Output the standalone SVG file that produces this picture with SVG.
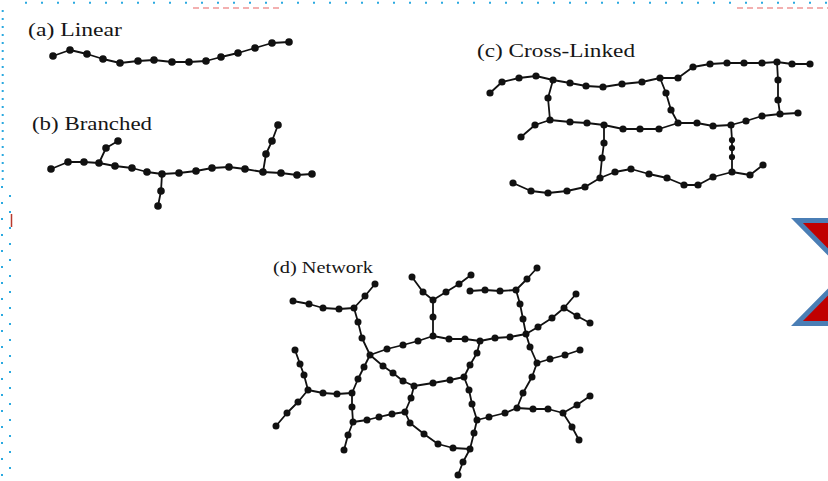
<svg xmlns="http://www.w3.org/2000/svg" width="828" height="481" viewBox="0 0 828 481">
  <style>
    .bond { fill: none; stroke: #111; stroke-width: 1.8; stroke-linejoin: round; stroke-linecap: round; }
    .atom { fill: #111; }
    .lbl { font-family: "Liberation Serif", "Times New Roman", serif; fill: #161616; }
    .dots { fill: none; stroke: #2BA9E0; stroke-width: 2; }
    .redline { fill: none; stroke: #E86A6A; stroke-width: 1.5; stroke-dasharray: 6 4; opacity: 0.7; }
    .arrow { fill: #C00000; stroke: #4A7EB5; stroke-width: 5; stroke-linejoin: miter; }
  </style>

  <rect width="828" height="481" fill="#ffffff"/>

  <!-- dotted frame -->
  <g id="frame">
    <line class="dots" x1="25" y1="2.7" x2="828" y2="2.7" stroke-dasharray="2 14"/>
    <line class="dots" x1="2.7" y1="10" x2="2.7" y2="184" stroke-dasharray="2 6"/>
    <line class="dots" x1="2" y1="186" x2="2" y2="481" stroke-dasharray="2 14"/>
    <line class="dots" x1="10" y1="195" x2="10" y2="481" stroke-dasharray="2 14"/>
    <line class="redline" x1="193" y1="8" x2="280" y2="8"/>
    <line class="redline" x1="737" y1="8" x2="828" y2="8"/>
    <line x1="11.5" y1="214" x2="11.5" y2="227" stroke="#B83A2E" stroke-width="1.5"/>
  </g>

  <!-- navigation marker at the right edge -->
  <g id="nav-marker">
    <polygon class="arrow" points="797,220.5 831,220.5 831,255"/>
    <polygon class="arrow" points="797,323.5 831,323.5 831,289"/>
  </g>

  <!-- bonds -->
  <g id="connectors">
    <!-- (a) linear -->
    <polyline class="bond" points="53,56 70,50 87,54 103,59 120,63 138,61 154,60 172,62 189,62 206,61 221,57 238,53 255,48 272,43 289,42"/>
    <!-- (b) branched -->
    <polyline class="bond" points="51,169 68,162 84,162 99,163 115,166 132,168 147,172 162,174 179,173 196,171 212,168 229,167 245,169 263,172 281,173 297,175 312,174"/>
    <polyline class="bond" points="99,163 106,148 118,141"/>
    <polyline class="bond" points="162,174 161,191 158,206"/>
    <polyline class="bond" points="263,172 266,154 272,141 278,125"/>
    <!-- (c) cross-linked -->
    <polyline class="bond" points="490,93 502,82 519,78 536,76 553,80 570,83 586,86 603,87 622,84 642,82 660,78 678,78 693,67 710,64 727,63 744,63 762,63 777,62 792,64 810,64"/>
    <polyline class="bond" points="521,137 535,125 550,120 570,122 587,123 604,125 623,129 640,129 659,129 678,123 697,123 713,126 731,125 746,121 762,116 780,114 798,113"/>
    <polyline class="bond" points="513,183 531,191 548,193 567,191 585,187 600,178 615,172 631,169 649,174 667,178 684,185 698,185 713,177 732,172 750,175 763,165"/>
    <polyline class="bond" points="553,80 548,98 550,120"/>
    <polyline class="bond" points="660,78 666,93 671,110 678,123"/>
    <polyline class="bond" points="777,62 778,80 778,100 780,114"/>
    <polyline class="bond" points="604,125 604,143 602,158 600,178"/>
    <polyline class="bond" points="731,125 732,140 732,148 732,157 732,172"/>
    <!-- (d) network -->
    <polyline class="bond" points="293,301 309,304 323,308 339,309 354,308"/>
    <polyline class="bond" points="354,308 365,296 375,284"/>
    <polyline class="bond" points="354,308 358,322 362,338 370,355"/>
    <polyline class="bond" points="370,355 387,349 403,345 418,341 433,336"/>
    <polyline class="bond" points="433,336 433,317 433,300"/>
    <polyline class="bond" points="433,300 423,292 412,277"/>
    <polyline class="bond" points="433,300 446,292 459,284 471,275"/>
    <polyline class="bond" points="433,336 449,339 465,339 480,341"/>
    <polyline class="bond" points="480,341 495,338 510,337 526,334"/>
    <polyline class="bond" points="516,290 520,304 523,319 526,334"/>
    <polyline class="bond" points="470,291 485,290 500,291 516,290"/>
    <polyline class="bond" points="516,290 527,279 537,268"/>
    <polyline class="bond" points="526,334 538,327 552,318 564,308"/>
    <polyline class="bond" points="564,308 576,294"/>
    <polyline class="bond" points="564,308 577,316 590,323"/>
    <polyline class="bond" points="526,334 530,347 537,363"/>
    <polyline class="bond" points="537,363 550,359 565,355 580,350"/>
    <polyline class="bond" points="537,363 532,377 523,393 517,408"/>
    <polyline class="bond" points="517,408 533,409 548,409 563,413"/>
    <polyline class="bond" points="563,413 577,405 590,396"/>
    <polyline class="bond" points="563,413 572,427 579,440"/>
    <polyline class="bond" points="477,420 489,417 505,413 517,408"/>
    <polyline class="bond" points="480,341 477,353 470,365 464,377"/>
    <polyline class="bond" points="464,377 450,380 433,383 414,386"/>
    <polyline class="bond" points="370,355 383,366 393,373 403,381 414,386"/>
    <polyline class="bond" points="464,377 469,390 472,404 477,420"/>
    <polyline class="bond" points="477,420 474,433 470,449"/>
    <polyline class="bond" points="470,449 463,462 458,475"/>
    <polyline class="bond" points="414,386 411,398 405,412"/>
    <polyline class="bond" points="405,412 410,423 424,434 438,444 453,448 470,449"/>
    <polyline class="bond" points="353,422 367,420 379,417 392,414 405,412"/>
    <polyline class="bond" points="370,355 364,367 358,379 352,393"/>
    <polyline class="bond" points="352,393 352,407 353,422"/>
    <polyline class="bond" points="353,422 348,435 344,450"/>
    <polyline class="bond" points="308,390 323,393 337,394 352,393"/>
    <polyline class="bond" points="308,390 304,375 300,364 295,350"/>
    <polyline class="bond" points="308,390 298,402 287,413 276,426"/>
  </g>

  <!-- (a) linear chain -->
  <g id="linear">
    <text class="lbl" x="28" y="36" font-size="18" textLength="94" lengthAdjust="spacingAndGlyphs">(a) Linear</text>
    <g class="atom">
      <circle cx="53" cy="56" r="3.8"/><circle cx="70" cy="50" r="3.8"/><circle cx="87" cy="54" r="3.8"/>
      <circle cx="103" cy="59" r="3.8"/><circle cx="120" cy="63" r="3.8"/><circle cx="138" cy="61" r="3.8"/>
      <circle cx="154" cy="60" r="3.8"/><circle cx="172" cy="62" r="3.8"/><circle cx="189" cy="62" r="3.8"/>
      <circle cx="206" cy="61" r="3.8"/><circle cx="221" cy="57" r="3.8"/><circle cx="238" cy="53" r="3.8"/>
      <circle cx="255" cy="48" r="3.8"/><circle cx="272" cy="43" r="3.8"/><circle cx="289" cy="42" r="3.8"/>
    </g>
  </g>

  <!-- (b) branched chain -->
  <g id="branched">
    <text class="lbl" x="32" y="130" font-size="19" textLength="120" lengthAdjust="spacingAndGlyphs">(b) Branched</text>
    <g class="atom">
      <circle cx="51" cy="169" r="3.8"/><circle cx="68" cy="162" r="3.8"/><circle cx="84" cy="162" r="3.8"/>
      <circle cx="99" cy="163" r="3.8"/><circle cx="115" cy="166" r="3.8"/><circle cx="132" cy="168" r="3.8"/>
      <circle cx="147" cy="172" r="3.8"/><circle cx="162" cy="174" r="3.8"/><circle cx="179" cy="173" r="3.8"/>
      <circle cx="196" cy="171" r="3.8"/><circle cx="212" cy="168" r="3.8"/><circle cx="229" cy="167" r="3.8"/>
      <circle cx="245" cy="169" r="3.8"/><circle cx="263" cy="172" r="3.8"/><circle cx="281" cy="173" r="3.8"/>
      <circle cx="297" cy="175" r="3.8"/><circle cx="312" cy="174" r="3.8"/>
      <circle cx="106" cy="148" r="3.8"/><circle cx="118" cy="141" r="3.8"/>
      <circle cx="161" cy="191" r="3.8"/><circle cx="158" cy="206" r="3.8"/>
      <circle cx="266" cy="154" r="3.8"/><circle cx="272" cy="141" r="3.8"/><circle cx="278" cy="125" r="3.8"/>
    </g>
  </g>

  <!-- (c) cross-linked chains -->
  <g id="cross-linked">
    <text class="lbl" x="477" y="57" font-size="19" textLength="158" lengthAdjust="spacingAndGlyphs">(c) Cross-Linked</text>
    <g class="atom">
      <circle cx="490" cy="93" r="3.6"/><circle cx="502" cy="82" r="3.6"/><circle cx="519" cy="78" r="3.6"/>
      <circle cx="536" cy="76" r="3.6"/><circle cx="553" cy="80" r="3.6"/><circle cx="570" cy="83" r="3.6"/>
      <circle cx="586" cy="86" r="3.6"/><circle cx="603" cy="87" r="3.6"/><circle cx="622" cy="84" r="3.6"/>
      <circle cx="642" cy="82" r="3.6"/><circle cx="660" cy="78" r="3.6"/><circle cx="678" cy="78" r="3.6"/>
      <circle cx="693" cy="67" r="3.6"/><circle cx="710" cy="64" r="3.6"/><circle cx="727" cy="63" r="3.6"/>
      <circle cx="744" cy="63" r="3.6"/><circle cx="762" cy="63" r="3.6"/><circle cx="777" cy="62" r="3.6"/>
      <circle cx="792" cy="64" r="3.6"/><circle cx="810" cy="64" r="3.6"/>

      <circle cx="521" cy="137" r="3.6"/><circle cx="535" cy="125" r="3.6"/><circle cx="550" cy="120" r="3.6"/>
      <circle cx="570" cy="122" r="3.6"/><circle cx="587" cy="123" r="3.6"/><circle cx="604" cy="125" r="3.6"/>
      <circle cx="623" cy="129" r="3.6"/><circle cx="640" cy="129" r="3.6"/><circle cx="659" cy="129" r="3.6"/>
      <circle cx="678" cy="123" r="3.6"/><circle cx="697" cy="123" r="3.6"/><circle cx="713" cy="126" r="3.6"/>
      <circle cx="731" cy="125" r="3.6"/><circle cx="746" cy="121" r="3.6"/><circle cx="762" cy="116" r="3.6"/>
      <circle cx="780" cy="114" r="3.6"/><circle cx="798" cy="113" r="3.6"/>

      <circle cx="513" cy="183" r="3.6"/><circle cx="531" cy="191" r="3.6"/><circle cx="548" cy="193" r="3.6"/>
      <circle cx="567" cy="191" r="3.6"/><circle cx="585" cy="187" r="3.6"/><circle cx="600" cy="178" r="3.6"/>
      <circle cx="615" cy="172" r="3.6"/><circle cx="631" cy="169" r="3.6"/><circle cx="649" cy="174" r="3.6"/>
      <circle cx="667" cy="178" r="3.6"/><circle cx="684" cy="185" r="3.6"/><circle cx="698" cy="185" r="3.6"/>
      <circle cx="713" cy="177" r="3.6"/><circle cx="732" cy="172" r="3.6"/><circle cx="750" cy="175" r="3.6"/>
      <circle cx="763" cy="165" r="3.6"/>

      <circle cx="548" cy="98" r="3.6"/>
      <circle cx="666" cy="93" r="3.6"/><circle cx="671" cy="110" r="3.6"/>
      <circle cx="778" cy="80" r="3.6"/><circle cx="778" cy="100" r="3.6"/>
      <circle cx="604" cy="143" r="3.6"/><circle cx="602" cy="158" r="3.6"/>
      <circle cx="732" cy="140" r="3.1"/><circle cx="732" cy="148" r="3.1"/><circle cx="732" cy="157" r="3.1"/>
    </g>
  </g>

  <!-- (d) network -->
  <g id="network">
    <text class="lbl" x="273" y="273" font-size="17" textLength="100" lengthAdjust="spacingAndGlyphs">(d) Network</text>
    <g class="atom">
      <circle cx="293" cy="301" r="3.5"/><circle cx="309" cy="304" r="3.5"/><circle cx="323" cy="308" r="3.5"/>
      <circle cx="339" cy="309" r="3.5"/><circle cx="354" cy="308" r="3.5"/>
      <circle cx="365" cy="296" r="3.5"/><circle cx="375" cy="284" r="3.5"/>
      <circle cx="358" cy="322" r="3.5"/><circle cx="362" cy="338" r="3.5"/><circle cx="370" cy="355" r="3.5"/>
      <circle cx="387" cy="349" r="3.5"/><circle cx="403" cy="345" r="3.5"/><circle cx="418" cy="341" r="3.5"/>
      <circle cx="433" cy="336" r="3.5"/><circle cx="433" cy="317" r="3.5"/><circle cx="433" cy="300" r="3.5"/>
      <circle cx="423" cy="292" r="3.5"/><circle cx="412" cy="277" r="3.5"/>
      <circle cx="446" cy="292" r="3.5"/><circle cx="459" cy="284" r="3.5"/><circle cx="471" cy="275" r="3.5"/>
      <circle cx="449" cy="339" r="3.5"/><circle cx="465" cy="339" r="3.5"/><circle cx="480" cy="341" r="3.5"/>
      <circle cx="495" cy="338" r="3.5"/><circle cx="510" cy="337" r="3.5"/><circle cx="526" cy="334" r="3.5"/>
      <circle cx="516" cy="290" r="3.5"/><circle cx="520" cy="304" r="3.5"/><circle cx="523" cy="319" r="3.5"/>
      <circle cx="470" cy="291" r="3.5"/><circle cx="485" cy="290" r="3.5"/><circle cx="500" cy="291" r="3.5"/>
      <circle cx="527" cy="279" r="3.5"/><circle cx="537" cy="268" r="3.5"/>
      <circle cx="538" cy="327" r="3.5"/><circle cx="552" cy="318" r="3.5"/><circle cx="564" cy="308" r="3.5"/>
      <circle cx="576" cy="294" r="3.5"/><circle cx="577" cy="316" r="3.5"/><circle cx="590" cy="323" r="3.5"/>
      <circle cx="530" cy="347" r="3.5"/><circle cx="537" cy="363" r="3.5"/>
      <circle cx="550" cy="359" r="3.5"/><circle cx="565" cy="355" r="3.5"/><circle cx="580" cy="350" r="3.5"/>
      <circle cx="532" cy="377" r="3.5"/><circle cx="523" cy="393" r="3.5"/><circle cx="517" cy="408" r="3.5"/>
      <circle cx="533" cy="409" r="3.5"/><circle cx="548" cy="409" r="3.5"/><circle cx="563" cy="413" r="3.5"/>
      <circle cx="577" cy="405" r="3.5"/><circle cx="590" cy="396" r="3.5"/>
      <circle cx="572" cy="427" r="3.5"/><circle cx="579" cy="440" r="3.5"/>
      <circle cx="477" cy="420" r="3.5"/><circle cx="489" cy="417" r="3.5"/><circle cx="505" cy="413" r="3.5"/>
      <circle cx="477" cy="353" r="3.5"/><circle cx="470" cy="365" r="3.5"/><circle cx="464" cy="377" r="3.5"/>
      <circle cx="450" cy="380" r="3.5"/><circle cx="433" cy="383" r="3.5"/><circle cx="414" cy="386" r="3.5"/>
      <circle cx="383" cy="366" r="3.5"/><circle cx="393" cy="373" r="3.5"/><circle cx="403" cy="381" r="3.5"/>
      <circle cx="469" cy="390" r="3.5"/><circle cx="472" cy="404" r="3.5"/>
      <circle cx="474" cy="433" r="3.5"/><circle cx="470" cy="449" r="3.5"/>
      <circle cx="463" cy="462" r="3.5"/><circle cx="458" cy="475" r="3.5"/>
      <circle cx="411" cy="398" r="3.5"/><circle cx="405" cy="412" r="3.5"/>
      <circle cx="410" cy="423" r="3.5"/><circle cx="424" cy="434" r="3.5"/><circle cx="438" cy="444" r="3.5"/>
      <circle cx="453" cy="448" r="3.5"/>
      <circle cx="353" cy="422" r="3.5"/><circle cx="367" cy="420" r="3.5"/><circle cx="379" cy="417" r="3.5"/>
      <circle cx="392" cy="414" r="3.5"/>
      <circle cx="364" cy="367" r="3.5"/><circle cx="358" cy="379" r="3.5"/><circle cx="352" cy="393" r="3.5"/>
      <circle cx="352" cy="407" r="3.5"/>
      <circle cx="348" cy="435" r="3.5"/><circle cx="344" cy="450" r="3.5"/>
      <circle cx="308" cy="390" r="3.5"/><circle cx="323" cy="393" r="3.5"/><circle cx="337" cy="394" r="3.5"/>
      <circle cx="304" cy="375" r="3.5"/><circle cx="300" cy="364" r="3.5"/><circle cx="295" cy="350" r="3.5"/>
      <circle cx="298" cy="402" r="3.5"/><circle cx="287" cy="413" r="3.5"/><circle cx="276" cy="426" r="3.5"/>
    </g>
  </g>
</svg>
